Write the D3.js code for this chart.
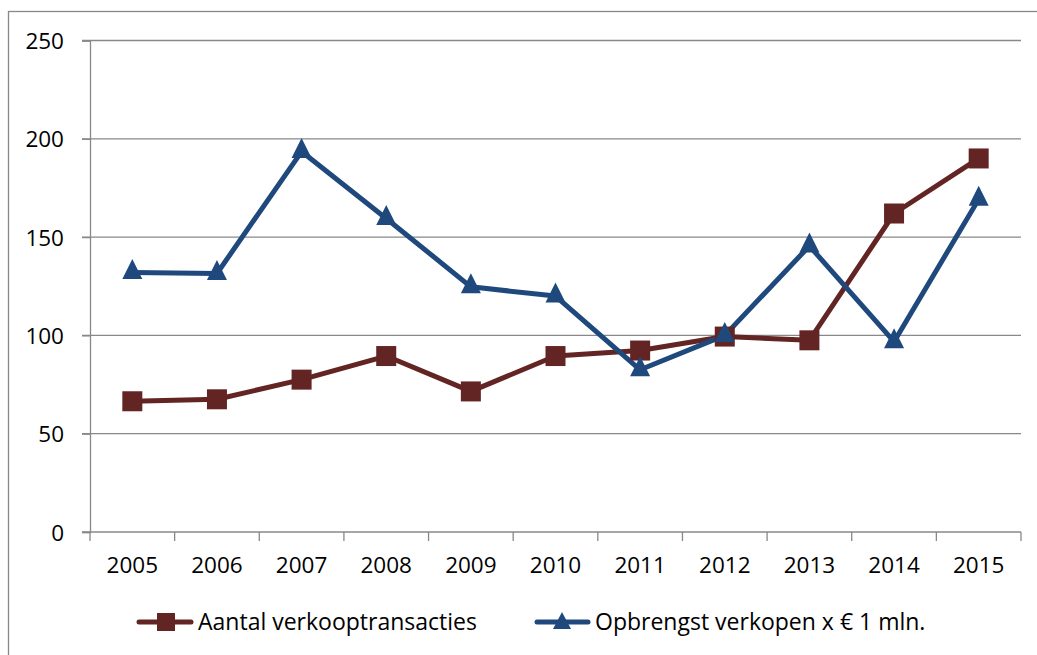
<!DOCTYPE html>
<html>
<head>
<meta charset="utf-8">
<script src="https://cdn.jsdelivr.net/npm/d3@7"></script>
<style>
    body { margin: 0; background: #fff; }
    svg text { font-family: "Open Sans", Lato, sans-serif; fill: #000; }
</style>
</head>
<body>
<div id="chart"><svg width="1037" height="655"></svg></div>
<script>
// categories
var years = ["2005", "2006", "2007", "2008", "2009", "2010", "2011", "2012", "2013", "2014", "2015"];
// Aantal verkooptransacties
var aantal = [66.5, 67.5, 77.5, 89.5, 71.5, 89.5, 92.3, 99.4, 97.5, 162, 190];
// Opbrengst verkopen x € 1 mln.
var opbrengst = [132, 131.5, 193.5, 159.5, 124.7, 120, 82.5, 100, 145.5, 96.8, 169.3];
var yTicks = [0, 50, 100, 150, 200, 250];
var seriesNames = ["Aantal verkooptransacties", "Opbrengst verkopen x \u20AC 1 mln."];

var svg = d3.select("#chart").select("svg");

var x = d3.scaleBand()
    .domain(years)
    .range([90, 1021])
    .padding(0);

var y = d3.scaleLinear()
    .domain([0, 250])
    .range([532, 40.5]);

var red = "#632523",
    blue = "#1f497d",
    grey = "#888888";

// outer chart border (runs off the picture on right / bottom)
svg.append("rect")
    .attr("x", 8.5)
    .attr("y", 11.5)
    .attr("width", 1100)
    .attr("height", 700)
    .style("fill", "none")
    .style("stroke", grey)
    .style("stroke-width", 1.3);

// gridlines
svg.selectAll(".grid")
    .data(yTicks.filter(function (d) { return d > 0; }))
    .enter().append("line")
    .classed("grid", true)
    .attr("x1", 82)
    .attr("x2", 1021)
    .attr("y1", function (d) { return y(d); })
    .attr("y2", function (d) { return y(d); })
    .style("stroke", grey)
    .style("stroke-width", 1.3);

// y axis
var yAxis = d3.axisLeft(y)
    .tickValues(yTicks)
    .tickSize(8)
    .tickPadding(18)
    .tickFormat(d3.format("d"));

var gy = svg.append("g")
    .attr("transform", "translate(90,0)")
    .call(yAxis);
gy.select(".domain").style("stroke", grey).style("stroke-width", 1.3);
gy.selectAll(".tick line").style("stroke", grey).style("stroke-width", 1.3);
gy.selectAll(".tick text")
    .style("font-size", "22.5px")
    .style("font-family", "'Open Sans', sans-serif")
    .attr("dy", "0.36em");

// x axis: ticks on category boundaries, labels at centres
var gx = svg.append("g");
gx.append("line")
    .attr("x1", 82)
    .attr("x2", 1021)
    .attr("y1", y(0))
    .attr("y2", y(0))
    .style("stroke", grey)
    .style("stroke-width", 1.3);

var bounds = years.map(function (d) { return x(d); }).concat([x.range()[1]]);
gx.selectAll(".xtick")
    .data(bounds)
    .enter().append("line")
    .classed("xtick", true)
    .attr("x1", function (d) { return d; })
    .attr("x2", function (d) { return d; })
    .attr("y1", y(0))
    .attr("y2", y(0) + 9)
    .style("stroke", grey)
    .style("stroke-width", 1.3);

gx.selectAll(".xlabel")
    .data(years)
    .enter().append("text")
    .classed("xlabel", true)
    .attr("x", function (d) { return x(d) + x.bandwidth() / 2; })
    .attr("y", 573)
    .attr("text-anchor", "middle")
    .style("font-size", "22.5px")
    .text(function (d) { return d; });

// series
var cx = function (d, i) { return x(years[i]) + x.bandwidth() / 2; };

var line = d3.line()
    .x(cx)
    .y(function (d) { return y(d); });

// triangle with its centroid at the data point, 20 wide, ~20 high
var triPath = "M0,-13.5L10,6.5L-10,6.5Z";

svg.append("path")
    .datum(aantal)
    .attr("d", line)
    .style("fill", "none")
    .style("stroke", red)
    .style("stroke-width", 5)
    .style("stroke-linejoin", "round");

svg.append("path")
    .datum(opbrengst)
    .attr("d", line)
    .style("fill", "none")
    .style("stroke", blue)
    .style("stroke-width", 5)
    .style("stroke-linejoin", "round");

svg.selectAll(".sq")
    .data(aantal)
    .enter().append("rect")
    .classed("sq", true)
    .attr("x", function (d, i) { return cx(d, i) - 10; })
    .attr("y", function (d) { return y(d) - 10; })
    .attr("width", 20)
    .attr("height", 20)
    .style("fill", red);

svg.selectAll(".tri")
    .data(opbrengst)
    .enter().append("path")
    .classed("tri", true)
    .attr("transform", function (d, i) {
        return "translate(" + cx(d, i) + "," + y(d) + ")";
    })
    .attr("d", triPath)
    .style("fill", blue);

// legend
var leg = svg.append("g");
var legY = 622;

leg.append("line")
    .attr("x1", 139).attr("x2", 191)
    .attr("y1", legY).attr("y2", legY)
    .style("stroke", red)
    .style("stroke-width", 5)
    .style("stroke-linecap", "round");
leg.append("rect")
    .attr("x", 157).attr("y", legY - 9)
    .attr("width", 18).attr("height", 18)
    .style("fill", red);
leg.append("text")
    .attr("x", 198).attr("y", legY + 8)
    .style("font-size", "23px")
    .text(seriesNames[0]);

leg.append("line")
    .attr("x1", 537).attr("x2", 588)
    .attr("y1", legY).attr("y2", legY)
    .style("stroke", blue)
    .style("stroke-width", 5)
    .style("stroke-linecap", "round");
leg.append("path")
    .attr("transform", "translate(562," + (legY + 1) + ")")
    .attr("d", "M0,-11L9,6L-9,6Z")
    .style("fill", blue);
leg.append("text")
    .attr("x", 595).attr("y", legY + 8)
    .style("font-size", "23px")
    .text(seriesNames[1]);
</script>
</body>
</html>
